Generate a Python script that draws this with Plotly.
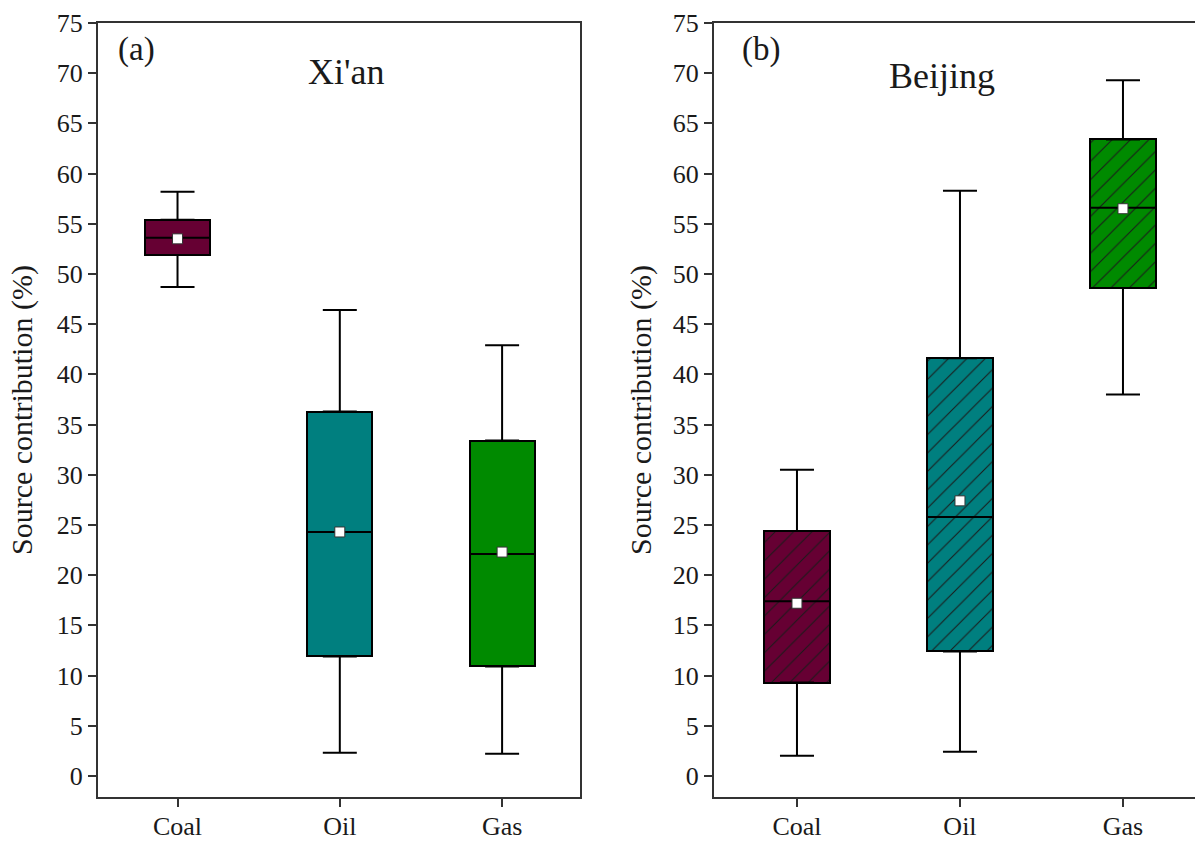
import plotly.graph_objects as go

categories = ["Coal", "Oil", "Gas"]
colors = ["#660033", "#007f7f", "#008a00"]

# Xi'an
xa_upper = [58.2, 46.4, 42.9]
xa_q3 = [55.4, 36.3, 33.4]
xa_median = [53.6, 24.3, 22.1]
xa_mean = [53.5, 24.3, 22.3]
xa_q1 = [51.9, 11.9, 10.9]
xa_lower = [48.7, 2.3, 2.2]

# Beijing
bj_upper = [30.5, 58.3, 69.3]
bj_q3 = [24.4, 41.6, 63.4]
bj_median = [17.4, 25.8, 56.6]
bj_mean = [17.2, 27.4, 56.5]
bj_q1 = [9.3, 12.4, 48.6]
bj_lower = [2.0, 2.4, 38.0]

yticks = list(range(0, 80, 5))

FONT = "'Liberation Serif', 'Times New Roman', 'DejaVu Serif', serif"
AX = "#333333"
TXT = "#1a1a1a"
BOXW = 0.40
W = 1205  # slightly wider than the window so the right panel is cut off like the reference
H = 841

fig = go.Figure()


def add_panel(xref, yref, upper, q3, med, mean, q1, lower, hatched):
    xs = list(range(len(categories)))
    for i in xs:
        marker = dict(color=colors[i], line=dict(color="black", width=2))
        if hatched:
            marker["pattern"] = dict(shape="/", fgcolor="#1a1a1a", bgcolor=colors[i],
                                     size=13, solidity=0.08, fillmode="replace")
        fig.add_trace(go.Bar(x=[i], y=[q3[i] - q1[i]], base=[q1[i]], width=BOXW,
                             marker=marker, xaxis=xref, yaxis=yref, showlegend=False))
    fig.add_trace(go.Scatter(x=xs, y=q3, mode="markers", marker=dict(size=1, opacity=0),
                             error_y=dict(type="data", symmetric=False,
                                          array=[u - q for u, q in zip(upper, q3)],
                                          arrayminus=[0] * 3, width=17, thickness=2, color="black"),
                             xaxis=xref, yaxis=yref, showlegend=False, hoverinfo="skip"))
    fig.add_trace(go.Scatter(x=xs, y=q1, mode="markers", marker=dict(size=1, opacity=0),
                             error_y=dict(type="data", symmetric=False,
                                          array=[0] * 3,
                                          arrayminus=[q - l for q, l in zip(q1, lower)],
                                          width=17, thickness=2, color="black"),
                             xaxis=xref, yaxis=yref, showlegend=False, hoverinfo="skip"))
    fig.add_trace(go.Scatter(x=xs, y=med, mode="markers", marker=dict(size=1, opacity=0),
                             error_x=dict(type="constant", value=BOXW / 2, width=0,
                                          thickness=2, color="black"),
                             xaxis=xref, yaxis=yref, showlegend=False, hoverinfo="skip"))
    fig.add_trace(go.Scatter(x=xs, y=mean, mode="markers",
                             marker=dict(symbol="square", size=10, color="white",
                                         line=dict(color="#333333", width=1)),
                             xaxis=xref, yaxis=yref, showlegend=False))


add_panel("x", "y", xa_upper, xa_q3, xa_median, xa_mean, xa_q1, xa_lower, False)
add_panel("x2", "y2", bj_upper, bj_q3, bj_median, bj_mean, bj_q1, bj_lower, True)

xcommon = dict(tickmode="array", tickvals=[0, 1, 2], ticktext=categories,
               ticks="outside", ticklen=8, tickwidth=2, tickcolor=AX,
               ticklabelstandoff=-3,
               showline=True, linecolor=AX, linewidth=2, showgrid=False, zeroline=False,
               tickfont=dict(family=FONT, size=26, color=TXT), mirror=True)
ycommon = dict(tickmode="array", tickvals=yticks, ticktext=[str(v) for v in yticks],
               range=[-2.1, 75], ticks="outside", ticklen=8, tickwidth=2, tickcolor=AX,
               showline=True, linecolor=AX, linewidth=2, showgrid=False, zeroline=False,
               tickfont=dict(family=FONT, size=26, color=TXT))


def px(x):
    return x / W


fig.update_layout(
    width=W, height=H,
    paper_bgcolor="white", plot_bgcolor="white",
    margin=dict(l=0, r=0, t=23, b=H - 799),
    bargap=0,
    xaxis=dict(domain=[px(98), px(580)], range=[-0.49, 2.48], **xcommon),
    yaxis=dict(domain=[0, 1], mirror=True, **ycommon),
    xaxis2=dict(domain=[px(714), 1.0], range=[-0.509, -0.509 + (W - 714) / 163],
                anchor="y2", **xcommon),
    yaxis2=dict(domain=[0, 1], anchor="x2", mirror=False, **ycommon),
    font=dict(family=FONT, color=TXT),
    annotations=[
        dict(text="(a)", x=px(116), y=72.4, xref="paper", yref="y", xanchor="left",
             yanchor="middle", showarrow=False, font=dict(family=FONT, size=33, color=TXT)),
        dict(text="Xi'an", x=px(346), y=70.1, xref="paper", yref="y", xanchor="center",
             yanchor="middle", showarrow=False, font=dict(family=FONT, size=36, color=TXT)),
        dict(text="(b)", x=px(740), y=72.4, xref="paper", yref="y2", xanchor="left",
             yanchor="middle", showarrow=False, font=dict(family=FONT, size=33, color=TXT)),
        dict(text="Beijing", x=px(942), y=69.7, xref="paper", yref="y2", xanchor="center",
             yanchor="middle", showarrow=False, font=dict(family=FONT, size=36, color=TXT)),
        dict(text="Source contribution (%)", x=px(22), y=0.5, xref="paper", yref="paper",
             textangle=-90, showarrow=False, xanchor="center", yanchor="middle",
             font=dict(family=FONT, size=30, color=TXT)),
        dict(text="Source contribution (%)", x=px(641), y=0.5, xref="paper", yref="paper",
             textangle=-90, showarrow=False, xanchor="center", yanchor="middle",
             font=dict(family=FONT, size=30, color=TXT)),
    ],
)

fig.write_html("out.html", config={"displayModeBar": False},
               post_script="document.body.style.margin='0';document.body.style.overflow='hidden';")
